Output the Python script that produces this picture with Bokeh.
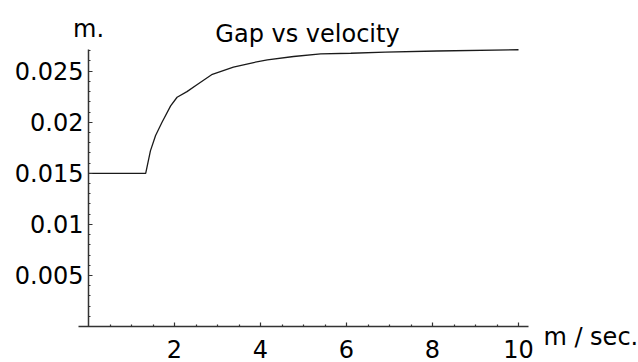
from bokeh.plotting import figure
from bokeh.models import FixedTicker, Range1d, Label
from bokeh.embed import file_html
from bokeh.resources import INLINE

# Data
velocity = [0.0, 1.33, 1.44, 1.56, 1.71, 1.91, 2.06, 2.29, 2.53, 2.88, 3.37,
            3.84, 4.16, 4.77, 5.40, 6.10, 6.90, 8.10, 10.0]
gap = [0.0150, 0.0150, 0.0172, 0.0187, 0.0200, 0.0216, 0.02245, 0.0230, 0.0237,
       0.0247, 0.0254, 0.02585, 0.0261, 0.02644, 0.0267, 0.02676, 0.02686,
       0.02698, 0.0271]

x_ticks = [2, 4, 6, 8, 10]
x_minor = [0.5, 1, 1.5, 2.5, 3, 3.5, 4.5, 5, 5.5, 6.5, 7, 7.5, 8.5, 9, 9.5]
y_ticks = [0.005, 0.01, 0.015, 0.02, 0.025]
y_minor = [i / 1000 for i in range(1, 28) if i % 5 != 0]

title_text = "Gap vs velocity"
y_unit = "m."
x_unit = "m / sec."

# axis extents (plot range of the original)
AX_X_START, AX_X_END = -0.23, 10.23
AX_Y_START, AX_Y_END = 0.0, 0.02712

# canvas layout: the frame fills the whole canvas, axes cross at the origin
W, H = 638, 362
ORIGIN_PX_X, ORIGIN_PX_Y = 88, 326          # origin position on canvas
PX_PER_X, PX_PER_Y = 43.0, 10212.0          # scale
x_start = -ORIGIN_PX_X / PX_PER_X
x_end = (W - ORIGIN_PX_X) / PX_PER_X
y_start = -(H - ORIGIN_PX_Y) / PX_PER_Y
y_end = ORIGIN_PX_Y / PX_PER_Y

FONT = "DejaVu Sans"
FS = "24px"
AX_COLOR = "#333333"

p = figure(width=W, height=H, output_backend="svg", toolbar_location=None,
           x_range=Range1d(x_start, x_end), y_range=Range1d(y_start, y_end),
           min_border=0, min_border_left=0, min_border_right=0,
           min_border_top=0, min_border_bottom=0)
p.outline_line_color = None
p.xgrid.visible = False
p.ygrid.visible = False
p.background_fill_color = "white"
p.border_fill_color = "white"

p.line(velocity, gap, line_color="#1a1a1a", line_width=1.3)

for ax in (p.xaxis[0], p.yaxis[0]):
    ax.axis_line_color = AX_COLOR
    ax.axis_line_width = 1.5
    ax.major_tick_line_color = AX_COLOR
    ax.minor_tick_line_color = AX_COLOR
    ax.major_tick_line_width = 1.2
    ax.minor_tick_line_width = 1.2
    ax.major_tick_in = 4
    ax.major_tick_out = 0
    ax.minor_tick_in = 2
    ax.minor_tick_out = 0
    ax.major_label_text_font = FONT
    ax.major_label_text_font_size = FS
    ax.major_label_text_color = "black"
    ax.fixed_location = 0

p.xaxis[0].bounds = (AX_X_START, AX_X_END)
p.yaxis[0].bounds = (AX_Y_START, AX_Y_END)
p.xaxis[0].ticker = FixedTicker(ticks=x_ticks, minor_ticks=x_minor)
p.yaxis[0].ticker = FixedTicker(ticks=y_ticks, minor_ticks=y_minor)
p.xaxis[0].major_label_standoff = 13
p.yaxis[0].major_label_standoff = 5
p.yaxis[0].major_label_overrides = {t: f"{t:g}" for t in y_ticks}

p.add_layout(Label(x=(AX_X_START + AX_X_END) / 2, y=AX_Y_END, text=title_text,
                   text_font=FONT, text_font_size=FS, text_align="center",
                   text_baseline="alphabetic", x_offset=4, y_offset=16,
                   text_color="black"))
p.add_layout(Label(x=0, y=AX_Y_END, text=y_unit, text_font=FONT,
                   text_font_size=FS, text_align="center",
                   text_baseline="alphabetic", y_offset=21, text_color="black"))
p.add_layout(Label(x=AX_X_END, y=0, text=x_unit, text_font=FONT,
                   text_font_size=FS, text_align="left",
                   text_baseline="alphabetic", x_offset=15, y_offset=-10,
                   text_color="black"))

open("out.html", "w").write(file_html(p, INLINE))
